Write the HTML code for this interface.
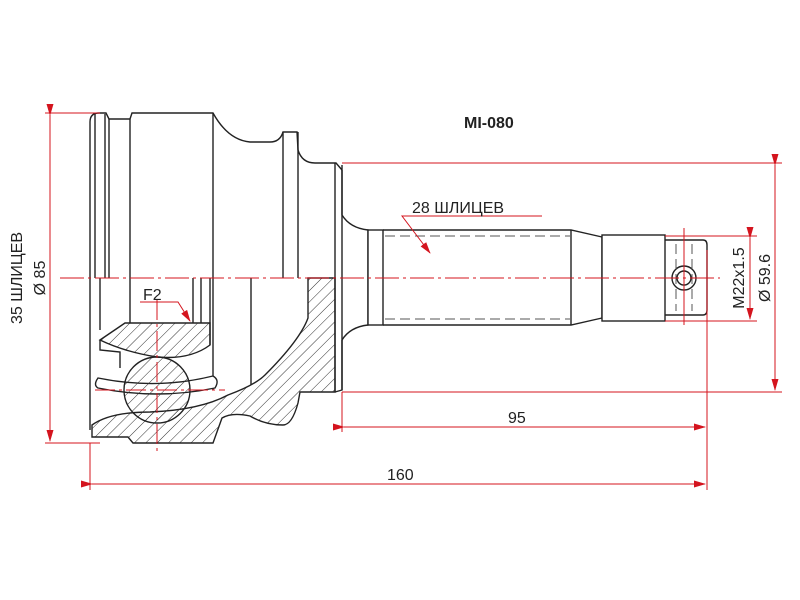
<!DOCTYPE html>
<html><head><meta charset="utf-8"><style>
html,body{margin:0;padding:0;background:#fff;}
svg{display:block;}
text{font-family:"Liberation Sans",sans-serif;fill:#222;}
</style></head><body>
<svg width="800" height="600" viewBox="0 0 800 600" xmlns="http://www.w3.org/2000/svg">
<defs>
<pattern id="h" patternUnits="userSpaceOnUse" width="8" height="8" patternTransform="rotate(45)">
<line x1="0" y1="0" x2="0" y2="8" stroke="#333" stroke-width="1"/>
</pattern>
<marker id="a" markerWidth="12" markerHeight="7" refX="11" refY="3.5" orient="auto" markerUnits="userSpaceOnUse">
<path d="M0,0 L12,3.5 L0,7 z" fill="#d4141e"/>
</marker>
</defs>

<text x="464" y="128" font-size="16" font-weight="bold">MI-080</text>

<g fill="none" stroke="#222" stroke-width="1.4">
<path d="M90,278 L90,122 Q90,113 99,113 L106,113 L109,119 L130,119 L132,113 L213,113 Q228,140 250,142 L270,142 Q280,142 283,132 L297,132 L298,150 Q302,163 315,163 L336,163 L342,170"/>
<line x1="95" y1="114" x2="95" y2="278"/>
<line x1="105" y1="114" x2="105" y2="278"/>
<line x1="109" y1="119" x2="109" y2="278"/>
<line x1="130" y1="119" x2="130" y2="278"/>
<line x1="213" y1="113" x2="213" y2="278"/>
<line x1="283" y1="132" x2="283" y2="278"/>
<line x1="298" y1="132" x2="298" y2="278"/>
<line x1="335" y1="163" x2="335" y2="392"/>
<line x1="342" y1="165" x2="342" y2="390"/>
<path d="M342,170 L342,215 Q350,228 368,230 L368,325 Q350,327 342,340"/>
<path d="M342,340 L342,390 L335,392"/>
<line x1="90" y1="278" x2="90" y2="430"/>
<line x1="100" y1="278" x2="100" y2="330"/>
<line x1="130" y1="278" x2="130" y2="323"/>
<line x1="193" y1="278" x2="193" y2="323"/>
<line x1="201" y1="278" x2="201" y2="323"/>
<line x1="210" y1="278" x2="210" y2="345"/>
<line x1="213" y1="278" x2="213" y2="390"/>
<line x1="251" y1="278" x2="251" y2="385"/>
</g>

<path d="M308,278 L335,278 L335,392 L300,392 L298,403 Q292,425 283,425 Q265,425 250,416 Q232,412 222,418 L213,443 L133,443 L128,437 L92,437 L92,425 Q110,412 150,412 Q200,410 228,395 Q255,385 265,375 Q300,340 308,318 Z" fill="url(#h)" stroke="#222" stroke-width="1.4"/>
<path d="M100,340 L125,323 L210,323 L210,345 Q190,360 157,357 Q125,352 100,340 Z" fill="url(#h)" stroke="#222" stroke-width="1.4"/>
<path d="M100,340 L100,350 L120,352 L120,368" fill="none" stroke="#222" stroke-width="1.4"/>
<path d="M98,378 Q93,385 98,388 Q157,400 215,388 Q220,380 213,376 Q157,390 98,378 Z" fill="#fff" stroke="#222" stroke-width="1.4"/>
<circle cx="157" cy="390" r="33" fill="url(#h)" stroke="#222" stroke-width="1.4"/>

<g fill="none" stroke="#222" stroke-width="1.4">
<rect x="368" y="230" width="15" height="95" fill="#fff"/>
<path d="M383,230 L571,230 L602,237 L602,318 L571,325 L383,325"/>
<line x1="571" y1="230" x2="571" y2="325"/>
<rect x="602" y="235" width="63" height="86" fill="#fff"/>
<path d="M665,240 L703,240 Q707,240 707,245 L707,310 Q707,315 703,315 L665,315"/>
<circle cx="684" cy="278" r="12"/>
<circle cx="684" cy="278" r="7"/>
</g>
<g stroke="#555" stroke-width="1" stroke-dasharray="10,5" fill="none">
<line x1="385" y1="236" x2="570" y2="236"/>
<line x1="385" y1="319" x2="570" y2="319"/>
<line x1="676" y1="244" x2="676" y2="311"/>
<line x1="692" y1="244" x2="692" y2="311"/>
</g>

<g stroke="#d4141e" stroke-width="1" fill="none">
<line x1="60" y1="278" x2="720" y2="278" stroke-dasharray="24,4,3,4"/>
<line x1="157" y1="300" x2="157" y2="455" stroke-dasharray="20,4,3,4"/>
<line x1="95" y1="390" x2="225" y2="390" stroke-dasharray="20,4,3,4"/>
<line x1="684" y1="228" x2="684" y2="325"/>
<line x1="45" y1="113" x2="100" y2="113"/>
<line x1="45" y1="443" x2="100" y2="443"/>
<line x1="50" y1="115" x2="50" y2="441" marker-start="url(#a)" marker-end="url(#a)"/>
<line x1="342" y1="163" x2="782" y2="163"/>
<line x1="342" y1="392" x2="782" y2="392"/>
<line x1="775" y1="165" x2="775" y2="390" marker-start="url(#a)" marker-end="url(#a)"/>
<line x1="665" y1="236" x2="757" y2="236"/>
<line x1="665" y1="321" x2="757" y2="321"/>
<line x1="750" y1="238" x2="750" y2="319" marker-start="url(#a)" marker-end="url(#a)"/>
<line x1="342" y1="392" x2="342" y2="432"/>
<line x1="707" y1="250" x2="707" y2="490"/>
<line x1="344" y1="427" x2="705" y2="427" marker-start="url(#a)" marker-end="url(#a)"/>
<line x1="90" y1="443" x2="90" y2="490"/>
<line x1="92" y1="484" x2="705" y2="484" marker-start="url(#a)" marker-end="url(#a)"/>
<polyline points="542,216 402,216 430,253" marker-end="url(#a)"/>
<polyline points="140,302 178,302 190,321" marker-end="url(#a)"/>
</g>

<text x="412" y="213" font-size="16">28 ШЛИЦЕВ</text>
<text x="143" y="300" font-size="16">F2</text>
<text x="508" y="423" font-size="16">95</text>
<text x="387" y="480" font-size="16">160</text>
<text transform="translate(744,278) rotate(-90)" font-size="16" text-anchor="middle">M22x1.5</text>
<text transform="translate(770,278) rotate(-90)" font-size="16" text-anchor="middle">Ø 59.6</text>
<text transform="translate(22,278) rotate(-90)" font-size="16" text-anchor="middle">35 ШЛИЦЕВ</text>
<text transform="translate(45,278) rotate(-90)" font-size="16" text-anchor="middle">Ø 85</text>
</svg>
</body></html>
